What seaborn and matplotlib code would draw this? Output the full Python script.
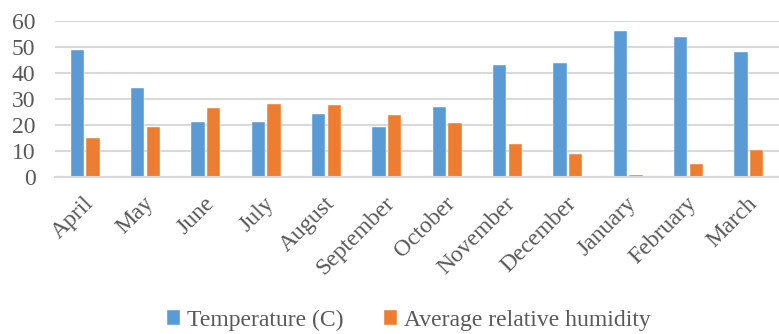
import matplotlib
matplotlib.use("Agg")
import matplotlib.pyplot as plt
import matplotlib.transforms as mtransforms
import seaborn as sns
import pandas as pd

months = ["April", "May", "June", "July", "August", "September", "October",
          "November", "December", "January", "February", "March"]
temperature = [49, 34, 21, 21, 24, 19, 27, 43, 44, 56, 54, 48]
humidity = [15, 19.2, 26.5, 28.2, 27.6, 23.6, 20.7, 12.6, 8.8, 0.6, 4.8, 10.2]
series = ["Temperature (C)", "Average relative humidity"]
colors = ["#5B9BD5", "#ED7D31"]
yticks = [0, 10, 20, 30, 40, 50, 60]

df = pd.DataFrame({"Month": months, series[0]: temperature, series[1]: humidity})
long = df.melt(id_vars="Month", var_name="Series", value_name="Value")

sns.set_theme(style="white")
plt.rcParams["font.family"] = ["Liberation Serif", "DejaVu Serif"]
text_color = "#595959"
fs = 17

fig = plt.figure(figsize=(7.79, 3.34), dpi=100)
ax = fig.add_axes([55 / 779, 1 - 176.7 / 334, 1 - 55 / 779, (176.7 - 21) / 334])

sns.barplot(data=long, x="Month", y="Value", hue="Series", order=months,
            hue_order=series, palette=colors, width=0.52, gap=0.15,
            saturation=1, edgecolor="white", linewidth=0.3, ax=ax)

ax.set_ylim(0, 60)
ax.set_xlim(-0.5, len(months) - 0.5)
ax.set_yticks(yticks)
ax.set_yticklabels([str(v) for v in yticks])
ax.yaxis.grid(True, color="#D9D9D9", linewidth=1.5)
ax.set_axisbelow(True)
for s in ["top", "right", "left"]:
    ax.spines[s].set_visible(False)
ax.spines["bottom"].set_color("#D9D9D9")
ax.spines["bottom"].set_linewidth(1.5)
ax.set_xlabel("")
ax.set_ylabel("")
ax.tick_params(axis="both", length=0, labelsize=fs, colors=text_color)
ax.tick_params(axis="y", pad=14)
ax.tick_params(axis="x", pad=17)
offset = mtransforms.ScaledTranslation(5 / 100, 0, fig.dpi_scale_trans)
for lbl in ax.get_xticklabels():
    lbl.set_rotation(45)
    lbl.set_ha("right")
    lbl.set_va("center")
    lbl.set_rotation_mode("anchor")
    lbl.set_transform(lbl.get_transform() + offset)

handles, labels = ax.get_legend_handles_labels()
ax.get_legend().remove()
leg = fig.legend(handles, labels, loc="center", bbox_to_anchor=(409 / 779, 1 - 320 / 334),
                 ncol=2, frameon=False, fontsize=fs, handlelength=0.55, handleheight=0.6,
                 handletextpad=0.3, columnspacing=1.7)
for t in leg.get_texts():
    t.set_color(text_color)

fig.savefig("out.png", dpi=100)
